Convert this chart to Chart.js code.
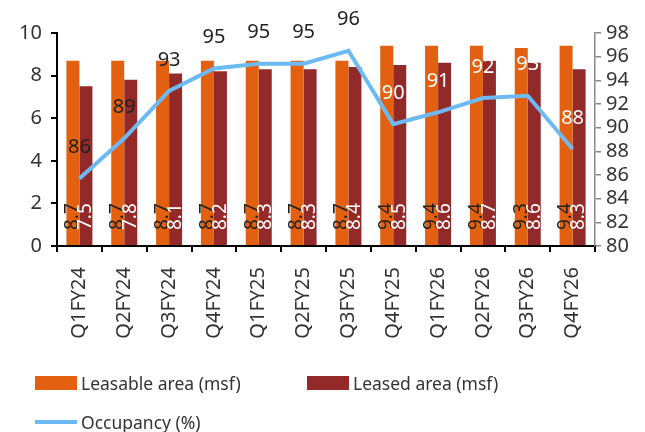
<!DOCTYPE html>
<html>
<head>
<meta charset="utf-8">
<script src="https://cdn.jsdelivr.net/npm/chart.js@4"></script>
<style>
  html, body { margin:0; padding:0; background:#fff; }
  #wrap { position:relative; width:645px; height:432px; overflow:hidden; font-family:"Noto Sans", sans-serif; color:#333; }
  canvas { position:absolute; left:0; top:0; }
  .lg { position:absolute; font-size:17.5px; line-height:22px; white-space:nowrap; }
  .sw { position:absolute; }
</style>
</head>
<body>
<div id="wrap">
  <canvas id="c" width="645" height="432"></canvas>
  <div class="sw" style="left:35px;top:376px;width:42px;height:14px;background:#E2600F;"></div>
  <div class="lg" style="left:81px;top:372px;">Leasable area (msf)</div>
  <div class="sw" style="left:307px;top:376px;width:42px;height:14px;background:#932A2A;"></div>
  <div class="lg" style="left:353px;top:372px;">Leased area (msf)</div>
  <div class="sw" style="left:35px;top:420px;width:42px;height:4px;background:#6DB9F4;"></div>
  <div class="lg" style="left:81px;top:411px;">Occupancy (%)</div>
</div>
<script>
const categories = ['Q1FY24','Q2FY24','Q3FY24','Q4FY24','Q1FY25','Q2FY25','Q3FY25','Q4FY25','Q1FY26','Q2FY26','Q3FY26','Q4FY26'];
const leasable = [8.7, 8.7, 8.7, 8.7, 8.7, 8.7, 8.7, 9.4, 9.4, 9.4, 9.3, 9.4];
const leased   = [7.5, 7.8, 8.1, 8.2, 8.3, 8.3, 8.4, 8.5, 8.6, 8.7, 8.6, 8.3];
const occupancy = [85.7, 89.1, 93.1, 95.0, 95.4, 95.4, 96.5, 90.3, 91.3, 92.5, 92.7, 88.2];
const occLabels = ['86','89','93','95','95','95','96','90','91','92','93','88'];
const occLabelColors = ['#222','#222','#222','#222','#222','#222','#222','#fff','#fff','#fff','#fff','#fff'];
const leftTicks = [0, 2, 4, 6, 8, 10];
const rightTicks = [80, 82, 84, 86, 88, 90, 92, 94, 96, 98];

// data labels drawn by hand
const labelPlugin = {
  id: 'labels',
  afterDatasetsDraw(chart) {
    const ctx = chart.ctx;
    ctx.save();
    // bar values, rotated, at the base
    [0, 1].forEach(di => {
      const meta = chart.getDatasetMeta(di);
      const vals = chart.data.datasets[di].data;
      ctx.fillStyle = di === 0 ? '#222' : '#fff';
      ctx.font = '19px "Noto Sans"';
      ctx.textAlign = 'left';
      ctx.textBaseline = 'middle';
      meta.data.forEach((bar, i) => {
        ctx.save();
        ctx.translate(bar.x, bar.base - 15);
        ctx.rotate(-Math.PI / 2);
        ctx.fillText(vals[i].toFixed(1), 0, 0);
        ctx.restore();
      });
    });
    const lm = chart.getDatasetMeta(2);
    ctx.font = '20px "Noto Sans"';
    ctx.textAlign = 'center';
    ctx.textBaseline = 'middle';
    lm.data.forEach((pt, i) => {
      ctx.fillStyle = occLabelColors[i];
      ctx.fillText(occLabels[i], pt.x, pt.y - 31);
    });
    ctx.restore();
  }
};

new Chart(document.getElementById('c'), {
  data: {
    labels: categories,
    datasets: [
      { type: 'bar', label: 'Leasable area (msf)', data: leasable, backgroundColor: '#E2600F', yAxisID: 'y', barPercentage: 1, categoryPercentage: 0.58, order: 2 },
      { type: 'bar', label: 'Leased area (msf)', data: leased, backgroundColor: '#932A2A', yAxisID: 'y', barPercentage: 1, categoryPercentage: 0.58, order: 2 },
      { type: 'line', label: 'Occupancy (%)', data: occupancy, borderColor: '#6DB9F4', borderWidth: 4, pointRadius: 0, tension: 0, yAxisID: 'y1', order: 1 }
    ]
  },
  options: {
    responsive: false,
    animation: false,
    layout: { padding: { top: 33, bottom: 0, left: 0, right: 0 } },
    plugins: { legend: { display: false }, tooltip: { enabled: false } },
    scales: {
      x: {
        afterFit: s => { s.height = 432 - 33 - 213; },
        grid: { display: true, drawOnChartArea: false, drawTicks: true, tickLength: 6, color: '#000', lineWidth: 2, offset: true },
        border: { display: true, color: '#000', width: 2 },
        ticks: { color: '#333', font: { family: 'Noto Sans', size: 20 }, minRotation: 90, maxRotation: 90, padding: 15, autoSkip: false }
      },
      y: {
        position: 'left', min: 0, max: 10,
        afterFit: s => { s.width = 57; },
        afterBuildTicks: s => { s.ticks = leftTicks.map(v => ({ value: v })); },
        grid: { display: true, drawOnChartArea: false, drawTicks: true, tickLength: 6, color: '#000', lineWidth: 2 },
        border: { display: true, color: '#000', width: 2 },
        ticks: { color: '#333', font: { family: 'Noto Sans', size: 20 }, padding: 9, autoSkip: false }
      },
      y1: {
        position: 'right', min: 80, max: 98,
        afterFit: s => { s.width = 50; },
        afterBuildTicks: s => { s.ticks = rightTicks.map(v => ({ value: v })); },
        grid: { display: true, drawOnChartArea: false, drawTicks: true, tickLength: 6, color: '#888', lineWidth: 1.5 },
        border: { display: true, color: '#888', width: 1.5 },
        ticks: { color: '#333', font: { family: 'Noto Sans', size: 20 }, padding: 5, autoSkip: false }
      }
    }
  },
  plugins: [labelPlugin]
});
</script>
</body>
</html>
